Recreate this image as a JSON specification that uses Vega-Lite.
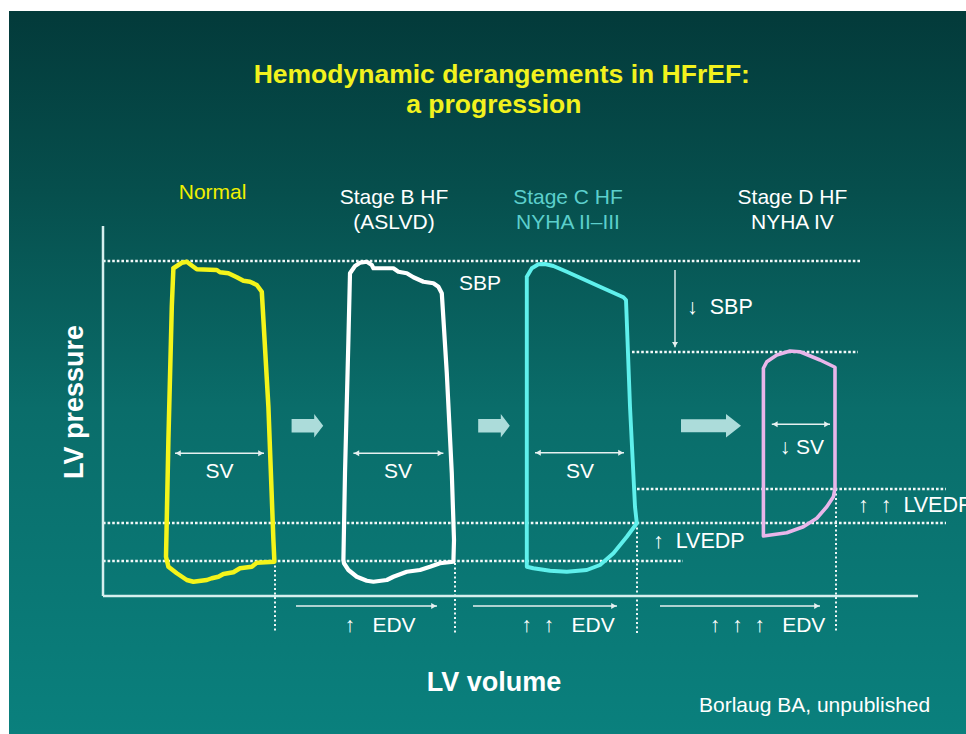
{
  "$schema": "https://vega.github.io/schema/vega-lite/v6.json",
  "width": 966,
  "height": 734,
  "autosize": {"type": "fit", "contains": "padding"},
  "padding": {"top": 11, "left": 9, "right": 0, "bottom": 0},
  "background": "white",
  "view": {
    "stroke": null,
    "fill": {
      "gradient": "linear", "x1": 0, "y1": 0, "x2": 0, "y2": 1,
      "stops": [
        {"offset": 0, "color": "#033a3a"},
        {"offset": 0.25, "color": "#064f4d"},
        {"offset": 0.55, "color": "#0a6d6a"},
        {"offset": 1, "color": "#0a807d"}
      ]
    }
  },
  "config": {
    "axis": {"disable": true},
    "text": {"font": "Liberation Sans"}
  },
  "encoding": {
    "x": {"type": "quantitative", "scale": {"domain": [-47, 431.5], "nice": false, "zero": false}},
    "y": {"type": "quantitative", "scale": {"domain": [-55.2, 234], "nice": false, "zero": false}}
  },
  "layer": [
    {
      "data": {"values": [
        {"v1": 0, "v2": 379.5, "p": 134},
        {"v1": 264.5, "v2": 377.5, "p": 97.6},
        {"v1": 267, "v2": 421.5, "p": 42.8},
        {"v1": 0, "v2": 421.5, "p": 29.2},
        {"v1": 0, "v2": 290, "p": 14}
      ]},
      "mark": {"type": "rule", "color": "#f2f8f8", "strokeWidth": 2.7, "strokeDash": [2.6, 2]},
      "encoding": {
        "x": {"field": "v1", "type": "quantitative"},
        "x2": {"field": "v2"},
        "y": {"field": "p", "type": "quantitative"}
      }
    },
    {
      "data": {"values": [
        {"v": 86, "p1": 14, "p2": -14.8},
        {"v": 176, "p1": 13.2, "p2": -14.8},
        {"v": 267, "p1": 29.2, "p2": -14.8},
        {"v": 366.5, "p1": 42.8, "p2": -14.8}
      ]},
      "mark": {"type": "rule", "color": "#eef6f6", "strokeWidth": 2, "strokeDash": [2, 2.5]},
      "encoding": {
        "x": {"field": "v", "type": "quantitative"},
        "y": {"field": "p1", "type": "quantitative"},
        "y2": {"field": "p2"}
      }
    },
    {
      "data": {"values": [
        {"v1": 0, "v2": 407.5, "p1": 0, "p2": 0},
        {"v1": 0, "v2": 0, "p1": 0, "p2": 148}
      ]},
      "mark": {"type": "rule", "color": "#d6efee", "strokeWidth": 2.5},
      "encoding": {
        "x": {"field": "v1", "type": "quantitative"},
        "x2": {"field": "v2"},
        "y": {"field": "p1", "type": "quantitative"},
        "y2": {"field": "p2"}
      }
    },
    {
      "data": {"values": [
        {"v1": 36, "v2": 80.5, "p1": 57.1, "p2": 57.1},
        {"v1": 125.2, "v2": 170.2, "p1": 57.1, "p2": 57.1},
        {"v1": 216, "v2": 260.5, "p1": 57.3, "p2": 57.3},
        {"v1": 334.4, "v2": 363.5, "p1": 68.7, "p2": 68.7},
        {"v1": 96.5, "v2": 167, "p1": -4, "p2": -4},
        {"v1": 185, "v2": 257, "p1": -4, "p2": -4},
        {"v1": 278.5, "v2": 358.5, "p1": -4, "p2": -4},
        {"v1": 286, "v2": 286, "p1": 130.4, "p2": 99.5}
      ]},
      "mark": {"type": "rule", "color": "#e6f0f0", "strokeWidth": 1.4},
      "encoding": {
        "x": {"field": "v1", "type": "quantitative"},
        "x2": {"field": "v2"},
        "y": {"field": "p1", "type": "quantitative"},
        "y2": {"field": "p2"}
      }
    },
    {
      "data": {"values": [
        {"v": 37.6, "p": 57.1, "dir": "left"},
        {"v": 78.9, "p": 57.1, "dir": "right"},
        {"v": 126.8, "p": 57.1, "dir": "left"},
        {"v": 168.6, "p": 57.1, "dir": "right"},
        {"v": 217.6, "p": 57.3, "dir": "left"},
        {"v": 258.9, "p": 57.3, "dir": "right"},
        {"v": 336, "p": 68.7, "dir": "left"},
        {"v": 361.9, "p": 68.7, "dir": "right"},
        {"v": 165.4, "p": -4, "dir": "right"},
        {"v": 255.4, "p": -4, "dir": "right"},
        {"v": 356.9, "p": -4, "dir": "right"},
        {"v": 286, "p": 100.6, "dir": "down"}
      ]},
      "mark": {"type": "point", "filled": true, "size": 36, "color": "#e6f0f0", "opacity": 1, "strokeWidth": 0},
      "encoding": {
        "x": {"field": "v", "type": "quantitative"},
        "y": {"field": "p", "type": "quantitative"},
        "shape": {"field": "dir", "type": "nominal", "scale": {"domain": ["left", "right", "down"], "range": ["triangle-left", "triangle-right", "triangle-down"]}, "legend": null}
      }
    },
    {
      "data": {"values": [
        {"v": 102.2, "p": 68.1},
        {"v": 195.5, "p": 68.1}
      ]},
      "mark": {"type": "point", "filled": true, "size": 1000, "color": "#acdcda", "opacity": 1, "strokeWidth": 0,
        "shape": "M-1,-0.42L0.43,-0.42L0.43,-0.74L1,0L0.43,0.74L0.43,0.42L-1,0.42Z"},
      "encoding": {
        "x": {"field": "v", "type": "quantitative"},
        "y": {"field": "p", "type": "quantitative"}
      }
    },
    {
      "data": {"values": [
        {"v": 304, "p": 68.1}
      ]},
      "mark": {"type": "point", "filled": true, "size": 3600, "color": "#acdcda", "opacity": 1, "strokeWidth": 0,
        "shape": "M-1,-0.22L0.5,-0.22L0.5,-0.39L1,0L0.5,0.39L0.5,0.22L-1,0.22Z"},
      "encoding": {
        "x": {"field": "v", "type": "quantitative"},
        "y": {"field": "p", "type": "quantitative"}
      }
    },
    {
      "data": {"values": [
        {"stage": "Normal", "i": 1, "v": 35.2, "p": 131.1},
        {"stage": "Normal", "i": 2, "v": 39.4, "p": 133.3},
        {"stage": "Normal", "i": 3, "v": 41.9, "p": 133.7},
        {"stage": "Normal", "i": 4, "v": 45.2, "p": 131.7},
        {"stage": "Normal", "i": 5, "v": 46.9, "p": 130.7},
        {"stage": "Normal", "i": 6, "v": 56.9, "p": 130.4},
        {"stage": "Normal", "i": 7, "v": 58.5, "p": 129.5},
        {"stage": "Normal", "i": 8, "v": 62.7, "p": 129.1},
        {"stage": "Normal", "i": 9, "v": 66.9, "p": 127.5},
        {"stage": "Normal", "i": 10, "v": 70.2, "p": 126.1},
        {"stage": "Normal", "i": 11, "v": 73.5, "p": 125.7},
        {"stage": "Normal", "i": 12, "v": 76.9, "p": 124.4},
        {"stage": "Normal", "i": 13, "v": 79.4, "p": 121.7},
        {"stage": "Normal", "i": 14, "v": 82.7, "p": 75.7},
        {"stage": "Normal", "i": 15, "v": 85.2, "p": 22.4},
        {"stage": "Normal", "i": 16, "v": 85.7, "p": 13.7},
        {"stage": "Normal", "i": 17, "v": 76.9, "p": 13.3},
        {"stage": "Normal", "i": 18, "v": 74.4, "p": 11.7},
        {"stage": "Normal", "i": 19, "v": 68.5, "p": 11.1},
        {"stage": "Normal", "i": 20, "v": 65.2, "p": 9.5},
        {"stage": "Normal", "i": 21, "v": 60.2, "p": 8.8},
        {"stage": "Normal", "i": 22, "v": 57.7, "p": 7.7},
        {"stage": "Normal", "i": 23, "v": 54.4, "p": 7.1},
        {"stage": "Normal", "i": 24, "v": 51.9, "p": 6.4},
        {"stage": "Normal", "i": 25, "v": 45.2, "p": 5.7},
        {"stage": "Normal", "i": 26, "v": 41.9, "p": 6.4},
        {"stage": "Normal", "i": 27, "v": 36.9, "p": 9.1},
        {"stage": "Normal", "i": 28, "v": 32.7, "p": 11.7},
        {"stage": "Normal", "i": 29, "v": 31.5, "p": 15.7},
        {"stage": "Normal", "i": 30, "v": 32.7, "p": 62.4},
        {"stage": "Normal", "i": 31, "v": 34.4, "p": 115.7},
        {"stage": "Normal", "i": 32, "v": 35.2, "p": 131.1},
        {"stage": "Stage B", "i": 1, "v": 120.2, "p": 14.4},
        {"stage": "Stage B", "i": 2, "v": 121, "p": 49.1},
        {"stage": "Stage B", "i": 3, "v": 122.7, "p": 102.4},
        {"stage": "Stage B", "i": 4, "v": 123.5, "p": 129.1},
        {"stage": "Stage B", "i": 5, "v": 126, "p": 132},
        {"stage": "Stage B", "i": 6, "v": 128.5, "p": 133.3},
        {"stage": "Stage B", "i": 7, "v": 131.9, "p": 133.7},
        {"stage": "Stage B", "i": 8, "v": 134.4, "p": 132.4},
        {"stage": "Stage B", "i": 9, "v": 135.2, "p": 131.1},
        {"stage": "Stage B", "i": 10, "v": 145.2, "p": 131.1},
        {"stage": "Stage B", "i": 11, "v": 147.7, "p": 129.7},
        {"stage": "Stage B", "i": 12, "v": 151.9, "p": 129.1},
        {"stage": "Stage B", "i": 13, "v": 155.2, "p": 127.5},
        {"stage": "Stage B", "i": 14, "v": 160.2, "p": 125.7},
        {"stage": "Stage B", "i": 15, "v": 165.2, "p": 125.1},
        {"stage": "Stage B", "i": 16, "v": 167.7, "p": 123.7},
        {"stage": "Stage B", "i": 17, "v": 169.4, "p": 121.1},
        {"stage": "Stage B", "i": 18, "v": 171.9, "p": 89.1},
        {"stage": "Stage B", "i": 19, "v": 174.4, "p": 49.1},
        {"stage": "Stage B", "i": 20, "v": 175.5, "p": 22.4},
        {"stage": "Stage B", "i": 21, "v": 175.2, "p": 13.7},
        {"stage": "Stage B", "i": 22, "v": 168.5, "p": 13.1},
        {"stage": "Stage B", "i": 23, "v": 163.5, "p": 11.7},
        {"stage": "Stage B", "i": 24, "v": 158.5, "p": 10.4},
        {"stage": "Stage B", "i": 25, "v": 151.9, "p": 9.7},
        {"stage": "Stage B", "i": 26, "v": 145.2, "p": 7.7},
        {"stage": "Stage B", "i": 27, "v": 141.9, "p": 6.4},
        {"stage": "Stage B", "i": 28, "v": 135.2, "p": 5.7},
        {"stage": "Stage B", "i": 29, "v": 131.9, "p": 6.1},
        {"stage": "Stage B", "i": 30, "v": 126.9, "p": 7.7},
        {"stage": "Stage B", "i": 31, "v": 122.7, "p": 10.4},
        {"stage": "Stage B", "i": 32, "v": 120.5, "p": 13.1},
        {"stage": "Stage B", "i": 33, "v": 120.2, "p": 14.4},
        {"stage": "Stage C", "i": 1, "v": 211.9, "p": 127.7},
        {"stage": "Stage C", "i": 2, "v": 214.4, "p": 131.1},
        {"stage": "Stage C", "i": 3, "v": 217.7, "p": 132.7},
        {"stage": "Stage C", "i": 4, "v": 221, "p": 132.8},
        {"stage": "Stage C", "i": 5, "v": 225.2, "p": 132},
        {"stage": "Stage C", "i": 6, "v": 231.9, "p": 129.7},
        {"stage": "Stage C", "i": 7, "v": 248.5, "p": 123.7},
        {"stage": "Stage C", "i": 8, "v": 260.2, "p": 119.5},
        {"stage": "Stage C", "i": 9, "v": 261.5, "p": 118.4},
        {"stage": "Stage C", "i": 10, "v": 263.5, "p": 75.7},
        {"stage": "Stage C", "i": 11, "v": 266, "p": 35.7},
        {"stage": "Stage C", "i": 12, "v": 266.9, "p": 29.1},
        {"stage": "Stage C", "i": 13, "v": 261.9, "p": 23.7},
        {"stage": "Stage C", "i": 14, "v": 255.2, "p": 17.1},
        {"stage": "Stage C", "i": 15, "v": 248.5, "p": 12.4},
        {"stage": "Stage C", "i": 16, "v": 241.9, "p": 10.4},
        {"stage": "Stage C", "i": 17, "v": 231.9, "p": 9.7},
        {"stage": "Stage C", "i": 18, "v": 223.5, "p": 10.1},
        {"stage": "Stage C", "i": 19, "v": 215.2, "p": 11.1},
        {"stage": "Stage C", "i": 20, "v": 211.9, "p": 11.7},
        {"stage": "Stage C", "i": 21, "v": 211.9, "p": 127.7},
        {"stage": "Stage D", "i": 1, "v": 330.2, "p": 91.1},
        {"stage": "Stage D", "i": 2, "v": 331.9, "p": 93.7},
        {"stage": "Stage D", "i": 3, "v": 336.9, "p": 96.4},
        {"stage": "Stage D", "i": 4, "v": 343.5, "p": 98},
        {"stage": "Stage D", "i": 5, "v": 348.5, "p": 97.7},
        {"stage": "Stage D", "i": 6, "v": 358.5, "p": 94.4},
        {"stage": "Stage D", "i": 7, "v": 366, "p": 91.5},
        {"stage": "Stage D", "i": 8, "v": 366, "p": 43.1},
        {"stage": "Stage D", "i": 9, "v": 365.2, "p": 39.7},
        {"stage": "Stage D", "i": 10, "v": 361.9, "p": 35.7},
        {"stage": "Stage D", "i": 11, "v": 356.9, "p": 31.1},
        {"stage": "Stage D", "i": 12, "v": 350.2, "p": 27.7},
        {"stage": "Stage D", "i": 13, "v": 341.9, "p": 25.3},
        {"stage": "Stage D", "i": 14, "v": 330.2, "p": 24},
        {"stage": "Stage D", "i": 15, "v": 330.2, "p": 91.1}
      ]},
      "mark": {"type": "line", "strokeJoin": "round", "strokeCap": "round"},
      "encoding": {
        "x": {"field": "v", "type": "quantitative"},
        "y": {"field": "p", "type": "quantitative"},
        "order": {"field": "i", "type": "quantitative"},
        "color": {"field": "stage", "type": "nominal", "scale": {"domain": ["Normal", "Stage B", "Stage C", "Stage D"], "range": ["#f4f41a", "#ffffff", "#5ff0ec", "#e8b6ea"]}, "legend": null},
        "strokeWidth": {"field": "stage", "type": "nominal", "scale": {"domain": ["Normal", "Stage B", "Stage C", "Stage D"], "range": [4.5, 3.6, 4, 3.6]}, "legend": null}
      }
    },
    {
      "data": {"values": [
        {"v": 199.4, "p": 205.1, "t": "Hemodynamic derangements in HFrEF:"},
        {"v": 195.4, "p": 193.1, "t": "a progression"}
      ]},
      "mark": {"type": "text", "fontSize": 26.5, "fontWeight": "bold", "color": "#f2f21e", "align": "center", "baseline": "alphabetic"},
      "encoding": {
        "x": {"field": "v", "type": "quantitative"},
        "y": {"field": "p", "type": "quantitative"},
        "text": {"field": "t"}
      }
    },
    {
      "data": {"values": [
        {"v": 54.8, "p": 161.2, "t": "Normal"}
      ]},
      "mark": {"type": "text", "fontSize": 21, "color": "#f0f000", "align": "center", "baseline": "middle"},
      "encoding": {
        "x": {"field": "v", "type": "quantitative"},
        "y": {"field": "p", "type": "quantitative"},
        "text": {"field": "t"}
      }
    },
    {
      "data": {"values": [
        {"v": 232.5, "p": 159.2, "t": "Stage C HF"},
        {"v": 232.5, "p": 149.2, "t": "NYHA II–III"}
      ]},
      "mark": {"type": "text", "fontSize": 21, "color": "#5ccfcc", "align": "center", "baseline": "middle"},
      "encoding": {
        "x": {"field": "v", "type": "quantitative"},
        "y": {"field": "p", "type": "quantitative"},
        "text": {"field": "t"}
      }
    },
    {
      "data": {"values": [
        {"v": 145.5, "p": 159.2, "t": "Stage B HF"},
        {"v": 145.5, "p": 149.2, "t": "(ASLVD)"},
        {"v": 344.7, "p": 159.2, "t": "Stage D HF"},
        {"v": 344.7, "p": 149.2, "t": "NYHA IV"},
        {"v": 188.5, "p": 124.8, "t": "SBP"},
        {"v": 58.3, "p": 49.7, "t": "SV"},
        {"v": 147.5, "p": 49.7, "t": "SV"},
        {"v": 238.5, "p": 49.7, "t": "SV"},
        {"v": 349.4, "p": 59.1, "t": "↓ SV"},
        {"v": 138.5, "p": -12, "t": "↑\u00a0\u00a0\u00a0EDV"},
        {"v": 232.5, "p": -12, "t": "↑\u00a0\u00a0↑\u00a0\u00a0\u00a0EDV"},
        {"v": 332.3, "p": -12, "t": "↑\u00a0\u00a0↑\u00a0\u00a0↑\u00a0\u00a0\u00a0EDV"},
        {"v": 355.8, "p": -44, "t": "Borlaug BA, unpublished"}
      ]},
      "mark": {"type": "text", "fontSize": 21, "color": "#ffffff", "align": "center", "baseline": "middle", "clip": true},
      "encoding": {
        "x": {"field": "v", "type": "quantitative"},
        "y": {"field": "p", "type": "quantitative"},
        "text": {"field": "t"}
      }
    },
    {
      "data": {"values": [
        {"v": 292, "p": 115.2, "t": "↓\u00a0\u00a0SBP"},
        {"v": 275, "p": 21.6, "t": "↑\u00a0\u00a0LVEDP"},
        {"v": 377.5, "p": 36, "t": "↑\u00a0\u00a0↑\u00a0\u00a0LVEDP"}
      ]},
      "mark": {"type": "text", "fontSize": 21.5, "color": "#ffffff", "align": "left", "baseline": "middle", "clip": true},
      "encoding": {
        "x": {"field": "v", "type": "quantitative"},
        "y": {"field": "p", "type": "quantitative"},
        "text": {"field": "t"}
      }
    },
    {
      "data": {"values": [
        {"v": 195.5, "p": -34.8, "t": "LV volume"}
      ]},
      "mark": {"type": "text", "fontSize": 27, "fontWeight": "bold", "color": "#ffffff", "align": "center", "baseline": "middle"},
      "encoding": {
        "x": {"field": "v", "type": "quantitative"},
        "y": {"field": "p", "type": "quantitative"},
        "text": {"field": "t"}
      }
    },
    {
      "data": {"values": [
        {"v": -14, "p": 77.6, "t": "LV pressure"}
      ]},
      "mark": {"type": "text", "fontSize": 27, "fontWeight": "bold", "color": "#ffffff", "align": "center", "baseline": "middle", "angle": 270},
      "encoding": {
        "x": {"field": "v", "type": "quantitative"},
        "y": {"field": "p", "type": "quantitative"},
        "text": {"field": "t"}
      }
    }
  ]
}
